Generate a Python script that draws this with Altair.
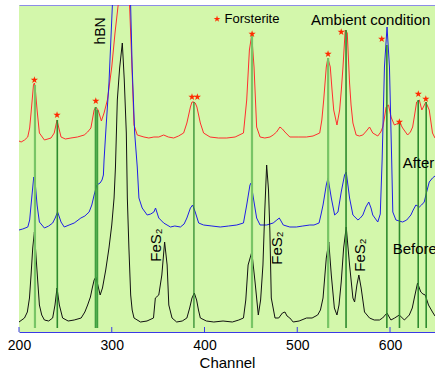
import altair as alt
import pandas as pd

# ---------------- data ----------------
red_ch = [200, 202.3, 206, 209.4, 211.5, 213, 215.6, 216.6, 217.4, 219.5, 222, 227.4, 234.5, 238, 241, 242.7,
          245.3, 250, 256, 263, 270.3, 274, 277.5, 281, 282.8, 285.3, 288.8, 291.7, 295.3, 300, 303.5, 306.8,
          310, 314, 317, 319.3, 321.5, 324, 327.5, 334.7, 340, 345.4, 350.7, 356, 361, 366.8, 372, 377.5, 381,
          384.8, 386.5, 388.3, 390, 391.8, 395.5, 399, 406, 415, 424, 433, 442, 445.5, 448.4, 450.9, 453.4,
          456.2, 459.9, 465, 470.6, 474, 477.7, 481.3, 484, 486.7, 492, 501, 509.9, 517, 524.2, 526.5, 528.5,
          531.3, 533, 535.6, 537.5, 539.3, 542.8, 545.7, 547.5, 549.3, 551.7, 553.9, 556.4, 558, 560, 563.5,
          567, 570.7, 574.5, 577.9, 581.4, 586.8, 590, 592.2, 594, 595.8, 598.4, 601.1, 604.7, 607, 610.1,
          613.6, 619, 622, 624.4, 626.5, 628.7, 631.6, 634.3, 636.5, 638.6, 642.3, 645.8, 648.5]
red_val = [191, 190, 192, 195, 204, 219, 247, 249, 245, 222, 199, 192, 194, 199, 212, 205,
           195, 193, 194, 195, 197, 200, 204, 222, 225, 222, 211, 219, 232, 265, 299, 326,
           372, 392, 372, 325, 272, 207, 197, 195, 194, 195, 195, 197, 195, 194, 196, 199, 209,
           225, 230, 230, 229, 225, 209, 199, 195, 194, 194, 195, 199, 232, 282, 297, 265,
           205, 195, 194, 195, 197, 200, 205, 203, 200, 195, 195, 195, 196, 199, 212, 232,
           265, 274, 265, 242, 222, 207, 222, 242, 265, 302, 299, 249, 227, 209, 197,
           196, 197, 201, 205, 199, 196, 200, 205, 214, 225, 227, 215, 207, 208, 210,
           204, 197, 200, 205, 217, 230, 232, 222, 226, 230, 222, 199, 194]

blue_ch = [200, 204, 209.5, 211.5, 213, 215.9, 217.4, 219.5, 222, 227.4, 232, 236.3, 239, 241.6, 243.5, 245.3,
           248.8, 254, 259.5, 266.7, 271, 275.6, 278.5, 281, 283.9, 287.4, 289.5, 291, 291.7, 294, 297, 300.6,
           304, 310, 316, 320.4, 322, 324.7, 327.5, 329.3, 332.8, 338.2, 342, 345.4, 347.2, 350.7, 356, 363.3,
           368, 374, 378, 381, 384.8, 387.2, 390, 393.7, 399, 408, 417, 426, 434.8, 442, 445.5, 449, 450.2,
           452.7, 456.2, 459.9, 467, 474, 478, 480.6, 482.5, 484.9, 492, 499, 506, 513.5, 518, 523.5, 525.5,
           527.8, 531.3, 533.2, 536.7, 540.3, 543.9, 547.4, 551, 552.8, 556.4, 560, 565.4, 568, 570.7, 574,
           577.1, 579.5, 581.4, 586.8, 589.5, 591.5, 594, 596.8, 599.4, 601.8, 603, 606.4, 610, 613.6, 618,
           622.5, 625, 627.9, 631.6, 634, 636.9, 639.5, 642.3, 645.8, 648.5]
blue_val = [102, 103, 105, 112, 127, 155, 150, 127, 110, 104, 106, 109, 114, 120, 115, 110,
            105, 107, 109, 114, 116, 120, 127, 137, 147, 149, 152, 157, 172, 207, 249, 325,
            392, 482, 452, 325, 265, 199, 165, 134, 124, 117, 118, 120, 124, 114, 109, 105,
            106, 105, 108, 114, 124, 127, 120, 109, 107, 106, 105, 106, 107, 109, 127, 147, 149,
            134, 114, 107, 107, 109, 112, 114, 111, 107, 105, 105, 106, 107, 107, 109, 117,
            127, 147, 154, 134, 117, 120, 140, 157, 160, 134, 117, 112, 114, 117, 125,
            130, 124, 117, 110, 118, 172, 265, 305, 265, 172, 120, 112, 111, 110, 112,
            117, 122, 127, 125, 127, 130, 140, 150, 154, 156]

black_ch = [200, 205.9, 209, 211.3, 213, 214.8, 216.6, 219, 222, 224.5, 227.4, 232, 236.3, 238.8, 241, 243.5,
            247, 253, 259.5, 267, 271, 274, 277, 279, 281, 282.8, 285, 287.5, 290, 293.5, 297, 300, 302.5,
            304, 306, 308.5, 311.4, 313.5, 315.7, 316.8, 318.5, 320.4, 322, 324, 331, 338, 345, 347, 350.7,
            354, 357, 359.7, 361.5, 365, 370, 376, 381, 384, 386.5, 389, 391.5, 393.5, 395.5, 402, 410, 420,
            430, 437, 442, 444.5, 447, 451, 454.5, 458, 460.5, 463, 465, 467, 469, 470.5, 472, 476, 480, 484,
            486.7, 489, 492, 495.6, 502, 510, 516, 522, 525, 527.8, 531.3, 534, 536.7, 540, 542.8, 545, 547.4,
            550, 552.8, 554.5, 556.4, 560, 561.8, 564.3, 566.4, 568.9, 572.5, 577.9, 583, 588.6, 592, 596.8,
            598.5, 601, 605, 610, 615.5, 620.8, 624, 626.2, 629.7, 633.2, 635.5, 638, 641.5, 645.8, 648.5]
black_val = [10, 14, 20, 34, 57, 84, 100, 67, 27, 17, 12, 11, 14, 27, 44, 27,
             14, 11, 12, 14, 20, 27, 35, 44, 52, 55, 47, 37, 44, 62, 84, 107, 134,
             165, 232, 264, 289, 252, 199, 134, 84, 37, 22, 14, 10, 11, 14, 34, 37,
             57, 90, 67, 27, 14, 10, 11, 14, 24, 34, 39, 32, 22, 14, 11, 10, 11,
             10, 12, 14, 32, 67, 80, 50, 17, 32, 67, 122, 167, 142, 100, 34, 14, 14, 19,
             20, 16, 14, 10, 11, 14, 14, 17, 22, 34, 74, 90, 57, 24, 17, 27, 50,
             84, 105, 87, 67, 34, 30, 47, 57, 44, 20, 14, 12, 12, 14, 19,
             16, 12, 14, 17, 12, 17, 24, 34, 49, 40, 38, 37, 27, 20, 16]

# forsterite reference lines: channel, top of the line, style group
line_ch = [217.2, 241.3, 282.6, 284.4, 388.6, 451.2, 533.3, 552.6, 596.6, 610.2, 630.4, 639.0]
line_top = [247, 212, 225, 222, 230, 297, 274, 302, 287, 210, 232, 230]
line_kind = ["thick", "thin", "mid", "mid", "dark", "thick", "thick", "thin", "thin", "thin", "thin", "thin"]

# star markers (forsterite peaks)
star_ch = [216.6, 241.0, 282.8, 386.5, 392.3, 451.3, 533.2, 547.4, 591.1, 610.1, 630.5, 638.6]
star_val = [252, 217, 231, 235, 235, 298, 278, 300, 293, 210, 238, 233]

tick_vals = [200, 300, 400, 500, 600]

# annotations
rot_text = ["hBN", "FeS₂", "FeS₂", "FeS₂"]
rot_ch = [288.5, 348.0, 478.4, 568.0]
rot_val = [301, 87, 84, 77]
rot_size = [14, 15, 15, 15]

lab_text = ["Ambient condition", "After", "Before"]
lab_ch = [514.9, 613.6, 602.9]
lab_val = [312, 169, 83]

legend_star_ch, legend_star_val = [413.5], [313]
legend_text_ch, legend_text_val = [421.6], [313]

# ---------------- chart ----------------
FONT = "Liberation Sans"
W, H = 416, 327
xs = alt.Scale(domain=[200, 648.5], nice=False, zero=False)
ys = alt.Scale(domain=[0, 327], nice=False, zero=False)
AX_BLUE = "#3a3ae6"
FRAME_BLUE = "#8c8ce8"
STAR = "M0,-1L0.2245,-0.309L0.951,-0.309L0.363,0.118L0.588,0.809L0,0.382L-0.588,0.809L-0.363,0.118L-0.951,-0.309L-0.2245,-0.309Z"


def X(field="ch", axis=None):
    return alt.X(f"{field}:Q", scale=xs, axis=axis)


def Y(field="v", axis=None):
    return alt.Y(f"{field}:Q", scale=ys, axis=axis)


def spectrum(ch, val, color, yaxis=None):
    df = pd.DataFrame({"ch": ch, "v": val})
    return alt.Chart(df).mark_line(color=color, strokeWidth=1, clip=True).encode(x=X(), y=Y(axis=yaxis))


left_axis = alt.Axis(orient="left", labels=False, ticks=False, title=None, grid=False,
                     domainColor=FRAME_BLUE, domainWidth=1)
red = spectrum(red_ch, red_val, "#ff2e2e", yaxis=left_axis)
blue = spectrum(blue_ch, blue_val, "#1f1fe6")
black = spectrum(black_ch, black_val, "#111111")

lines_df = pd.DataFrame({"ch": line_ch, "top": line_top, "kind": line_kind, "bot": [4] * len(line_ch)})
bottom_axis = alt.Axis(orient="bottom", values=tick_vals, ticks=False, grid=False, domainColor=AX_BLUE,
                       domainWidth=1.2, labelFont=FONT, labelFontSize=14, labelColor="black",
                       labelPadding=6, labelFlush=False, title="Channel", titleFont=FONT,
                       titleFontSize=15, titleFontWeight="normal", titleColor="black", titlePadding=3)
kinds = ["thick", "mid", "thin", "dark"]
glines = alt.Chart(lines_df).mark_rule(clip=True).encode(
    x=X(axis=bottom_axis),
    y=alt.Y("bot:Q", scale=ys, axis=None),
    y2="top:Q",
    color=alt.Color("kind:N", scale=alt.Scale(domain=kinds,
                                                range=["#78c566", "#3f9f3f", "#2e8b2e", "#2f8a2f"]), legend=None),
    strokeWidth=alt.StrokeWidth("kind:N", scale=alt.Scale(domain=kinds,
                                                           range=[2.2, 1.3, 1.1, 2.2]), legend=None),
)

stars = alt.Chart(pd.DataFrame({"ch": star_ch, "v": star_val})).mark_point(
    shape=STAR, filled=True, color="#ff2a00", size=58, opacity=1).encode(x=X(), y=Y())

ticks_df = pd.DataFrame({"ch": tick_vals})
top_axis = alt.Axis(orient="top", labels=False, ticks=False, title=None, grid=False,
                    domainColor=FRAME_BLUE, domainWidth=1)
ticks = alt.Chart(ticks_df).mark_rule(color=AX_BLUE, strokeWidth=1).encode(
    x=X(axis=top_axis), y=alt.value(H - 5), y2=alt.value(H))

rot_df = pd.DataFrame({"t": rot_text, "ch": rot_ch, "v": rot_val, "s": rot_size})
rot = alt.Chart(rot_df).mark_text(angle=270, align="center", baseline="middle", font=FONT,
                                  color="black").encode(
    x=X(), y=Y(), text="t:N", size=alt.Size("s:Q", scale=None, legend=None))

lab_df = pd.DataFrame({"t": lab_text, "ch": lab_ch, "v": lab_val})
labs = alt.Chart(lab_df).mark_text(align="left", baseline="middle", font=FONT, fontSize=15,
                                   color="black").encode(x=X(), y=Y(), text="t:N")

leg_star = alt.Chart(pd.DataFrame({"ch": legend_star_ch, "v": legend_star_val})).mark_point(
    shape=STAR, filled=True, color="#ff2a00", size=50, opacity=1).encode(x=X(), y=Y())
leg_text = alt.Chart(pd.DataFrame({"ch": legend_text_ch, "v": legend_text_val, "t": ["Forsterite"]})).mark_text(
    align="left", baseline="middle", font=FONT, fontSize=13, color="black").encode(x=X(), y=Y(), text="t:N")

chart = alt.layer(red, blue, black, glines, stars, ticks, rot, labs, leg_star, leg_text).resolve_axis(
    x="independent"
).properties(
    width=W, height=H,
    padding={"left": 19, "top": 5, "right": 0, "bottom": 43},
    autosize=alt.AutoSizeParams(type="none"),
    background="white",
).configure_view(fill="#d3f7ab", stroke=None)

chart.save("out.html", embed_options={"renderer": "svg", "actions": False})
